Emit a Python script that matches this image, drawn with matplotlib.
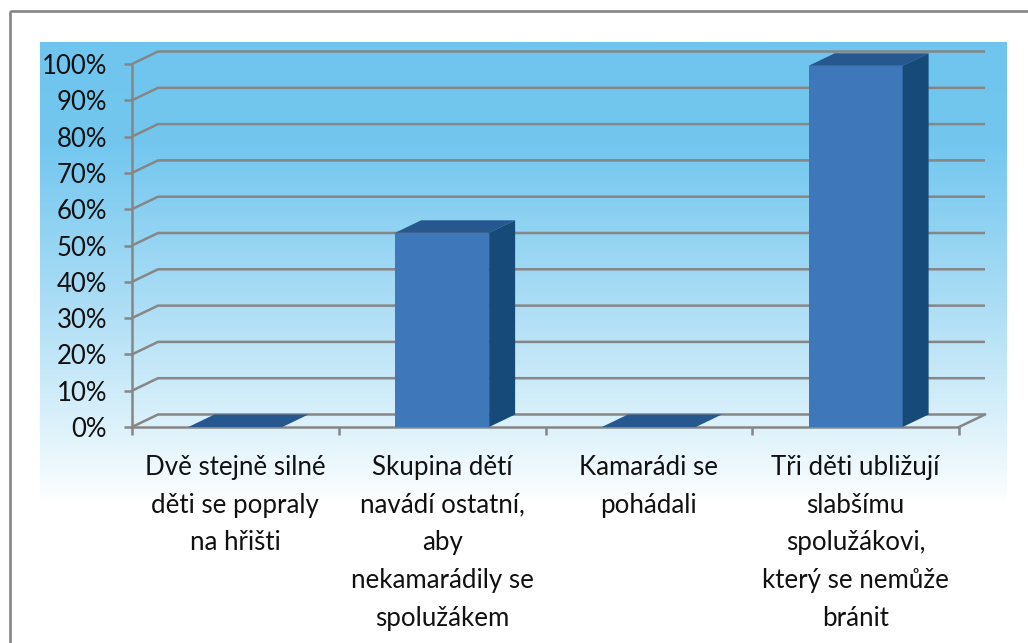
#!/usr/bin/env python3
# -*- coding: utf-8 -*-
import numpy as np
import matplotlib
matplotlib.use('Agg')
import matplotlib.pyplot as plt
from matplotlib.colors import LinearSegmentedColormap
from matplotlib.patches import Polygon, Rectangle

categories = ['Dvě stejně silné\nděti se popraly\nna hřišti',
              'Skupina dětí\nnavádí ostatní,\naby\nnekamarádily se\nspolužákem',
              'Kamarádi se\npohádali',
              'Tři děti ubližují\nslabšímu\nspolužákovi,\nkterý se nemůže\nbránit']
values = [0, 53.5, 0, 99.5]
yticks = [0, 10, 20, 30, 40, 50, 60, 70, 80, 90, 100]

W, H = 1028, 643
GREY = '#868686'
plt.rcParams['font.family'] = ['Lato', 'DejaVu Sans']

fig = plt.figure(figsize=(W/100, H/100), dpi=100)

# background: frame and gradient panel, in pixels
bg = fig.add_axes([0, 0, 1, 1], zorder=0)
bg.axis('off')
cmap = LinearSegmentedColormap.from_list('sky', [(0, '#6fc5ee'), (0.22, '#73c7ef'), (0.55, '#a9dcf5'),
                                                  (0.85, '#e0f3fb'), (1, '#ffffff')])
bg.imshow(np.linspace(0, 1, 256).reshape(-1, 1), cmap=cmap, extent=(40, 1007, 505, 42), aspect='auto')
bg.set_xlim(0, W)
bg.set_ylim(H, 0)
bg.add_patch(Rectangle((9.5, 10.5), 1100, 800, fill=False, ec=GREY, lw=1.9))

# plot area is the front plane of the fake 3d box
ax = fig.add_axes([132/W, 1-427/H, (959-132)/W, (427-64)/H], zorder=1)
ax.patch.set_alpha(0)
ax.set_xlim(0, 4)
ax.set_ylim(0, 100)
for s in ax.spines.values():
    s.set_visible(False)
for side in ['left', 'bottom']:
    ax.spines[side].set_visible(True)
    ax.spines[side].set_color(GREY)
    ax.spines[side].set_linewidth(1.8)

dx = 26/827*4   # depth offset in data units
dy = 12.5/3.63

for t in yticks:
    ax.plot([0, dx, 4+dx], [t, t+dy, t+dy], color=GREY, lw=1.8, clip_on=False, zorder=1,
            solid_capstyle='butt', solid_joinstyle='miter')
ax.plot([4, 4+dx], [0, dy], color=GREY, lw=1.8, clip_on=False, zorder=1)

bar_w = 94/827*4
xs = np.arange(len(values)) + 0.5
ax.bar(xs, values, width=bar_w, color='#3f78ba', zorder=3)
for x, v in zip(xs, values):
    l, r = x-bar_w/2, x+bar_w/2
    ax.add_patch(Polygon([(l, v), (l+dx, v+dy), (r+dx, v+dy), (r, v)], fc='#26588f', ec='none', zorder=3, clip_on=False))
    if v > 0:
        ax.add_patch(Polygon([(r, 0), (r+dx, dy), (r+dx, v+dy), (r, v)], fc='#164a78', ec='none', zorder=3, clip_on=False))

ax.set_yticks(yticks)
ax.set_yticklabels(['%d%%' % t for t in yticks], fontsize=18.5, color='#111111')
ax.set_xticks(range(5))
ax.set_xticklabels([])
ax.tick_params(axis='y', length=6, width=1.8, color=GREY, pad=12)
ax.tick_params(axis='x', length=6, width=1.8, color=GREY)

for x, c in zip(xs, categories):
    ax.annotate(c, (x, 0), xytext=(0, -20), xycoords='data', textcoords='offset points',
                ha='center', va='top', fontsize=18.6, color='#111111', linespacing=1.64)

fig.savefig('out.png', dpi=100)
